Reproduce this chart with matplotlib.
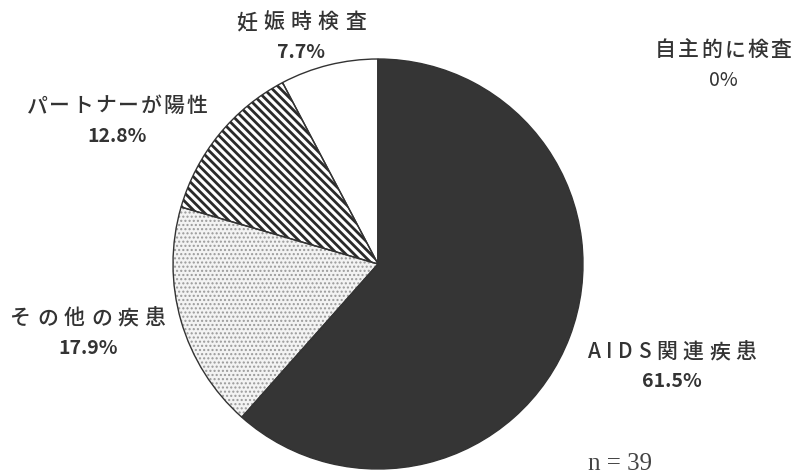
import matplotlib
matplotlib.use("Agg")
import matplotlib.pyplot as plt

plt.rcParams['font.family'] = ['Noto Sans CJK JP', 'DejaVu Sans']
plt.rcParams['hatch.linewidth'] = 2.0

# HIV test reasons, n = 39 (clockwise from 12 o'clock)
categories = ['AIDS関連疾患', 'その他の疾患', 'パートナーが陽性', '妊娠時検査', '自主的に検査']
percents = [61.5, 17.9, 12.8, 7.7, 0.0]
pct_labels = ['61.5%', '17.9%', '12.8%', '7.7%', '0%']

faces = ['#353535', '#f3f3f3', 'white', 'white', 'white']
hatches = [None, '....', '\\\\\\\\', None, None]
hatch_colors = ['#353535', '#9a9a9a', '#2a2a2a', 'white', 'white']
hatch_lw = [1.0, 1.0, 2.0, 1.0, 1.0]

# label centres (pixels from top-left) and extra letter spacing in px
label_pos = [(672, 352), (88, 318), (117, 106), (301, 22), (723, 50)]
tracking = [5.5, 6.0, 2.0, 6.5, 2.4]

fig = plt.figure(figsize=(7.98, 4.77), dpi=100)
ax = fig.add_axes([0, 0, 1, 1])
H = 477

cx, cy, r = 378, H - 265, 205

# fill layer with hatching
wedges, _ = ax.pie(percents, startangle=90, counterclock=False,
                   center=(cx, cy), radius=r, frame=True,
                   wedgeprops=dict(linewidth=0))
for w, fc, h, hc, lw in zip(wedges, faces, hatches, hatch_colors, hatch_lw):
    w.set_facecolor(fc)
    w.set_edgecolor(hc)
    if h:
        w.set_hatch(h)
        if hasattr(w, 'set_hatch_linewidth'):
            w.set_hatch_linewidth(lw)

# outlines on top
ax.pie(percents, startangle=90, counterclock=False,
       center=(cx, cy), radius=r, frame=True,
       wedgeprops=dict(fill=False, edgecolor='#333333', linewidth=1.0))

ax.set_xlim(0, 798)
ax.set_ylim(0, H)
ax.set_aspect('equal')
ax.axis('off')

renderer = fig.canvas.get_renderer()


def text_width(s, **kw):
    t = ax.text(0, 0, s, **kw)
    w = t.get_window_extent(renderer).width
    t.remove()
    return w


def spaced_text(x, y, s, gap, **kw):
    """Draw s centred at (x, y) with extra space between characters."""
    full = text_width(s, **kw) + gap * (len(s) - 1)
    x0 = x - full / 2
    for i, ch in enumerate(s):
        xi = x0 + (text_width(s[:i], **kw) if i else 0) + gap * i
        ax.text(xi, y, ch, ha='left', va='center', **kw)


style = dict(fontsize=15, color='#333333', fontweight='medium')
for name, pct, (x, y), gap in zip(categories, pct_labels, label_pos, tracking):
    spaced_text(x, H - y, name, gap, **style)
    ax.text(x, H - y - 30, pct, ha='center', va='center', fontsize=14,
            color='#333333', fontweight='bold' if pct != '0%' else 'normal')

ax.text(588, H - 464, 'n = 39', ha='left', va='center', fontsize=18,
        color='#444444', family='Liberation Serif')

fig.savefig('out.png', dpi=100)
